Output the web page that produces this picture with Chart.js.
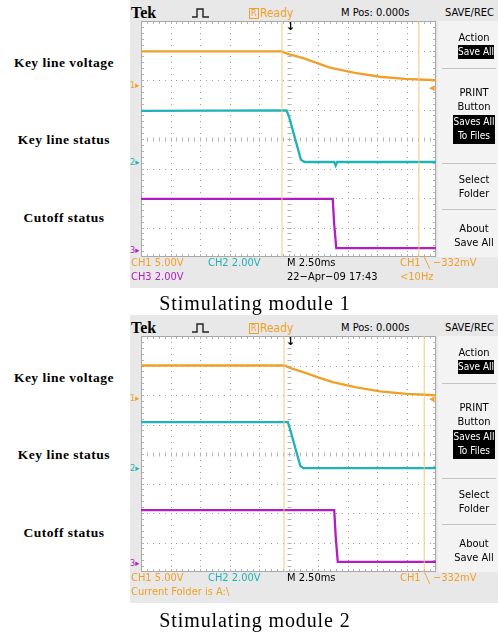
<!DOCTYPE html>
<html>
<head>
<meta charset="utf-8">
<script src="https://cdn.jsdelivr.net/npm/chart.js@4.4.1/dist/chart.umd.min.js"></script>
<style>
  body { margin: 0; width: 498px; height: 634px; background: #fff; position: relative; overflow: hidden; }
  .scope { position: absolute; left: 130px; width: 368px; height: 288px; background: #e8e8e8;
           font-family: "Liberation Sans Narrow", "DejaVu Sans Condensed", sans-serif; }
  .plot { position: absolute; left: 11px; top: 21px; width: 295px; height: 236px; background: #fff; }
  .menu { position: absolute; left: 308px; top: 21px; width: 60px; height: 236px; background: #f3f3f3; }
  .sep { position: absolute; left: 312px; width: 54px; height: 1px; background: #c4c4c4; }
  .t { position: absolute; white-space: nowrap; font-size: 11px; line-height: 12px; }
  .inv { position: absolute; background: #000; }
  .lbl { position: absolute; left: 0; width: 128px; text-align: center; white-space: nowrap;
         font-family: "Liberation Serif", serif; font-weight: bold; font-size: 13.5px; line-height: 14px;
         letter-spacing: 0.5px; }
  .cap { position: absolute; left: 105px; width: 300px; text-align: center; white-space: nowrap;
         font-family: "Liberation Serif", serif; font-size: 20px; line-height: 22px; letter-spacing: 0.9px; }
</style>
</head>
<body>
<script>
const m1VoltX = [0, 4.77, 5.0, 5.5, 5.95, 6.4, 7.25, 8.1, 8.95, 9.8, 10];
const m1VoltY = [6.97, 6.97, 6.88, 6.74, 6.58, 6.42, 6.24, 6.11, 6.04, 6.0, 5.99];
const m1StatX = [0, 4.93, 5.02, 5.42, 5.55, 6.55, 6.6, 6.65, 10];
const m1StatY = [4.95, 4.97, 4.75, 3.3, 3.22, 3.22, 3.1, 3.22, 3.22];
const m1CutX = [0, 6.5, 6.55, 6.62, 10];
const m1CutY = [1.97, 1.97, 1.1, 0.3, 0.3];
const m1Cursors = [4.78, 9.42];

const m2VoltX = [0, 4.85, 5.1, 5.6, 6.0, 6.5, 7.3, 8.1, 9.0, 9.8, 10];
const m2VoltY = [7.0, 7.0, 6.9, 6.74, 6.6, 6.44, 6.26, 6.12, 6.04, 6.0, 5.99];
const m2StatX = [0, 4.98, 5.05, 5.4, 5.5, 10];
const m2StatY = [5.08, 5.08, 4.85, 3.6, 3.52, 3.52];
const m2CutX = [0, 6.55, 6.6, 6.67, 10];
const m2CutY = [2.1, 2.1, 1.2, 0.34, 0.34];
const m2Cursors = [4.85, 9.6];

const ORANGE = "#f0a028";
const CYAN = "#1fb3b8";
const MAGENTA = "#b01ec0";

function txt(parent, s, x, y, color, extra) {
  const d = document.createElement("div");
  d.className = "t";
  d.textContent = s;
  d.style.left = x + "px";
  d.style.top = (y - 6) + "px";
  d.style.color = color || "#000";
  if (extra) Object.assign(d.style, extra);
  parent.appendChild(d);
  return d;
}

function pts(xs, ys) {
  return xs.map((x, i) => ({ x: x, y: ys[i] }));
}

// dotted Tek graticule: dots every 1/5 division, ticks on border and centre lines
const graticule = {
  id: "graticule",
  beforeDatasetsDraw(chart) {
    const { ctx, chartArea: a, scales: { x, y } } = chart;
    ctx.save();
    ctx.fillStyle = "#9c9c9c";
    for (let i = 1; i < 10; i++) {
      const px = Math.round(x.getPixelForValue(i));
      for (let j = 0; j <= 40; j++) ctx.fillRect(px, Math.round(y.getPixelForValue(j / 5)), 1, 1);
    }
    for (let j = 1; j < 8; j++) {
      const py = Math.round(y.getPixelForValue(j));
      for (let i = 0; i <= 50; i++) ctx.fillRect(Math.round(x.getPixelForValue(i / 5)), py, 1, 1);
    }
    ctx.strokeStyle = "#b4b4b4";
    ctx.lineWidth = 1;
    const cx = Math.round(x.getPixelForValue(5)) + 0.5;
    const cy = Math.round(y.getPixelForValue(4)) + 0.5;
    for (let i = 0; i <= 50; i++) {
      const px = Math.round(x.getPixelForValue(i / 5)) + 0.5;
      ctx.beginPath();
      ctx.moveTo(px, cy - 2); ctx.lineTo(px, cy + 2);
      ctx.moveTo(px, a.top); ctx.lineTo(px, a.top + 3);
      ctx.moveTo(px, a.bottom); ctx.lineTo(px, a.bottom - 3);
      ctx.stroke();
    }
    for (let i = 0; i <= 40; i++) {
      const py = Math.round(y.getPixelForValue(i / 5)) + 0.5;
      ctx.beginPath();
      ctx.moveTo(cx - 2, py); ctx.lineTo(cx + 2, py);
      ctx.moveTo(a.left, py); ctx.lineTo(a.left + 3, py);
      ctx.moveTo(a.right, py); ctx.lineTo(a.right - 3, py);
      ctx.stroke();
    }
    ctx.strokeStyle = "#a8a8a8";
    ctx.strokeRect(a.left + 0.5, a.top + 0.5, a.right - a.left - 1, a.bottom - a.top - 1);
    ctx.restore();
  }
};

function buildScope(top, cfg) {
  const s = document.createElement("div");
  s.className = "scope";
  s.style.top = top + "px";
  document.body.appendChild(s);

  // header
  txt(s, "Tek", 1, 13, "#000", { fontFamily: "Liberation Serif, serif", fontWeight: "bold", fontSize: "16px" });
  const pulse = document.createElementNS("http://www.w3.org/2000/svg", "svg");
  pulse.setAttribute("width", "20"); pulse.setAttribute("height", "12");
  pulse.style.position = "absolute"; pulse.style.left = "62px"; pulse.style.top = "7px";
  pulse.innerHTML = '<polyline points="0,10 5,10 5,2 11,2 11,10 17,10" fill="none" stroke="#222" stroke-width="1.4"/>';
  s.appendChild(pulse);
  const rb = txt(s, "R", 119, 13, ORANGE, { border: "1px solid " + ORANGE, fontSize: "9px", lineHeight: "9px", padding: "0 1px" });
  rb.style.top = "8px";
  txt(s, "Ready", 130, 13, ORANGE, { fontSize: "12px" });
  txt(s, "M Pos: 0.000s", 211, 13, "#000");
  txt(s, "SAVE/REC", 315, 13, "#000");

  // graticule and traces
  const plot = document.createElement("div");
  plot.className = "plot";
  s.appendChild(plot);
  const cv = document.createElement("canvas");
  cv.width = 295; cv.height = 236;
  plot.appendChild(cv);

  const datasets = [];
  cfg.cursors.forEach(c => datasets.push({
    data: [{ x: c, y: 0 }, { x: c, y: 8 }],
    borderColor: "#f6c77e", borderWidth: 1, pointRadius: 0
  }));
  datasets.push({ data: pts(cfg.voltX, cfg.voltY), borderColor: ORANGE, borderWidth: 2.3, pointRadius: 0 });
  datasets.push({ data: pts(cfg.statX, cfg.statY), borderColor: CYAN, borderWidth: 2.3, pointRadius: 0 });
  datasets.push({ data: pts(cfg.cutX, cfg.cutY), borderColor: MAGENTA, borderWidth: 2.3, pointRadius: 0 });

  const axis = (max) => ({
    type: "linear", min: 0, max: max,
    ticks: { display: false, stepSize: 1 },
    grid: { display: false, drawTicks: false },
    border: { display: false }
  });
  new Chart(cv, {
    type: "line",
    data: { datasets: datasets },
    options: {
      responsive: false, animation: false, devicePixelRatio: 1,
      layout: { padding: 0 },
      plugins: { legend: { display: false }, tooltip: { enabled: false } },
      scales: { x: axis(10), y: axis(8) }
    },
    plugins: [graticule]
  });

  // trigger position arrow and trigger level marker
  txt(s, "\u2193", 156, 27, "#000", { fontFamily: "DejaVu Sans, sans-serif", fontWeight: "bold", fontSize: "11px" });
  txt(s, "\u25C2", 299, cfg.trigLevel, ORANGE, { fontFamily: "DejaVu Sans, sans-serif", fontSize: "11px" });

  // channel ground markers
  txt(s, "1\u25B8", 0, cfg.gnd[0], ORANGE, { fontSize: "9px" });
  txt(s, "2\u25B8", 0, cfg.gnd[1], CYAN, { fontSize: "9px" });
  txt(s, "3\u25B8", 0, cfg.gnd[2], MAGENTA, { fontSize: "9px" });

  // side menu
  const menu = document.createElement("div");
  menu.className = "menu";
  s.appendChild(menu);
  [68, 163, 209].forEach(y => {
    const l = document.createElement("div");
    l.className = "sep"; l.style.top = y + "px"; s.appendChild(l);
  });
  const inv1 = document.createElement("div");
  inv1.className = "inv";
  Object.assign(inv1.style, { left: "328px", top: "45px", width: "36px", height: "14px" });
  s.appendChild(inv1);
  const inv2 = document.createElement("div");
  inv2.className = "inv";
  Object.assign(inv2.style, { left: "323px", top: "115px", width: "42px", height: "29px" });
  s.appendChild(inv2);
  const menuText = [["Action", 38, "#000"], ["Save All", 52, "#fff"], ["PRINT", 93, "#000"],
    ["Button", 107, "#000"], ["Saves All", 122, "#fff"], ["To Files", 136, "#fff"],
    ["Select", 180, "#000"], ["Folder", 194, "#000"], ["About", 229, "#000"], ["Save All", 243, "#000"]];
  menuText.forEach(m => {
    const inverted = m[2] === "#fff";
    const left = m[0] === "Save All" && inverted ? 317 : 315;
    txt(s, m[0], left, m[1], m[2], { width: "58px", textAlign: "center", fontSize: inverted ? "10px" : "11px" });
  });

  // footer
  txt(s, "CH1  5.00V", 1, 263, ORANGE);
  txt(s, "CH2  2.00V", 78, 263, CYAN);
  txt(s, "M 2.50ms", 157, 263, "#000");
  txt(s, "CH1 \u2572 \u2212332mV", 270, 263, ORANGE);
  cfg.footer2.forEach(f => txt(s, f[0], f[1], 277, f[2]));
}

function label(s, y) {
  const d = document.createElement("div");
  d.className = "lbl";
  d.textContent = s;
  d.style.top = (y - 7) + "px";
  document.body.appendChild(d);
}
function caption(s, y) {
  const d = document.createElement("div");
  d.className = "cap";
  d.textContent = s;
  d.style.top = (y - 11) + "px";
  document.body.appendChild(d);
}

buildScope(0, {
  voltX: m1VoltX, voltY: m1VoltY, statX: m1StatX, statY: m1StatY, cutX: m1CutX, cutY: m1CutY,
  cursors: m1Cursors, gnd: [85, 162, 250], trigLevel: 88,
  footer2: [["CH3  2.00V", 1, MAGENTA], ["22\u2212Apr\u221209 17:43", 157, "#000"], ["<10Hz", 270, ORANGE]]
});
buildScope(315, {
  voltX: m2VoltX, voltY: m2VoltY, statX: m2StatX, statY: m2StatY, cutX: m2CutX, cutY: m2CutY,
  cursors: m2Cursors, gnd: [83, 153, 248], trigLevel: 84,
  footer2: [["Current Folder is A:\\", 1, ORANGE]]
});

label("Key line voltage", 63);
label("Key line status", 140);
label("Cutoff status", 218);
label("Key line voltage", 378);
label("Key line status", 455);
label("Cutoff status", 533);
caption("Stimulating module 1", 303);
caption("Stimulating module 2", 620);
</script>
</body>
</html>
